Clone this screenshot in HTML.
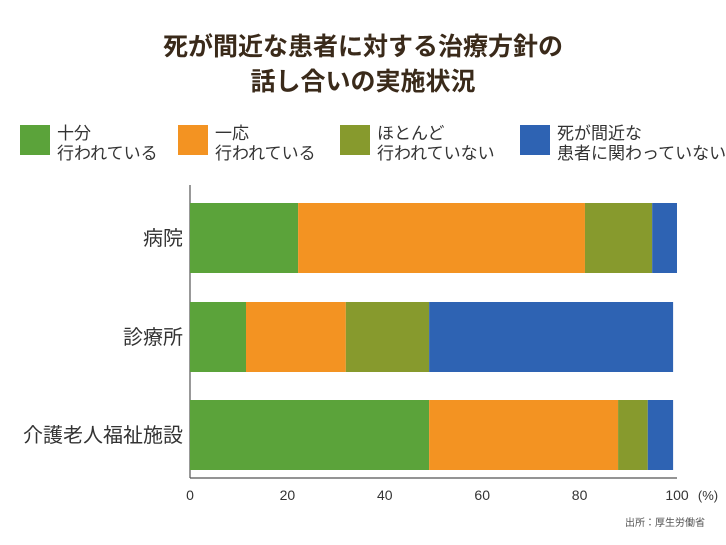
<!DOCTYPE html>
<html><head><meta charset="utf-8"><style>
body{margin:0;background:#fff;font-family:"Liberation Sans","Noto Sans CJK JP",sans-serif;}
#wrap{position:relative;width:726px;height:545px;overflow:hidden;}
.t{position:absolute;color:#3a2a1a;}
</style></head><body>
<div id="wrap">
<div class="t" style="left:0;width:726px;top:30px;text-align:center;font-size:25px;font-weight:bold;line-height:35px;">死が間近な患者に対する治療方針の<br>話し合いの実施状況</div>
<svg id="svg" width="726" height="545" style="position:absolute;left:0;top:0"></svg>
</div>
<script>
const categories=["病院","診療所","介護老人福祉施設"];
const seriesNames=["十分\n行われている","一応\n行われている","ほとんど\n行われていない","死が間近な\n患者に関わっていない"];
const fullyDone=[22.2,11.5,49.1];
const somewhatDone=[58.9,20.5,38.8];
const rarelyDone=[13.8,17.1,6.1];
const notInvolved=[5.1,50.1,5.2];
const ticks=[0,20,40,60,80,100];
const colors=["#5ba33a","#f39322","#879a2d","#2e63b3"];
const series=[fullyDone,somewhatDone,rarelyDone,notInvolved];
const NS="http://www.w3.org/2000/svg";
const svg=document.getElementById('svg');
const x0=190,x1=677;
const xs=v=>x0+(x1-x0)*v/100;
const rowTop=[203,302,400],barH=70;
function mk(t,a){const e=document.createElementNS(NS,t);for(const k in a)e.setAttribute(k,a[k]);svg.appendChild(e);return e;}
let ax=mk('line',{x1:x0,y1:185,x2:x0,y2:478,stroke:'#555','stroke-width':1.2});


let bx=mk('line',{x1:x0,y1:478,x2:x1,y2:478,stroke:'#555','stroke-width':1.2});


ticks.forEach(t=>{
 const tl=mk('text',{x:xs(t),y:500,'text-anchor':'middle','font-size':14,fill:'#333'});
 tl.textContent=t;
 
 
});
const pu=mk('text',{x:708,y:500,'text-anchor':'middle','font-size':13,fill:'#333'});
pu.textContent='(%)';


categories.forEach((c,i)=>{
 const y=rowTop[i];
 const lb=mk('text',{x:183,y:y+barH/2+7,'text-anchor':'end','font-size':20,fill:'#333'});
 lb.textContent=c;
 
 
 let acc=0;
 series.forEach((s,j)=>{
  const r=mk('rect',{x:xs(acc),y:y,width:xs(acc+s[i])-xs(acc),height:barH,fill:colors[j]});
  
  
  acc+=s[i];
 });
});
const legX=[20,178,340,520];
seriesNames.forEach((n,j)=>{
 const r=mk('rect',{x:legX[j],y:125,width:30,height:30,fill:colors[j]});
 
 
 const lines=n.split('\n');
 lines.forEach((l,k)=>{
  const t=mk('text',{x:legX[j]+37,y:139+k*20,'font-size':17,fill:'#333'});
  t.textContent=l;
  
  
 });
});
const src=mk('text',{x:705,y:526,'text-anchor':'end','font-size':10,fill:'#555'});
src.textContent='出所：厚生労働省';


</script>
</body></html>
